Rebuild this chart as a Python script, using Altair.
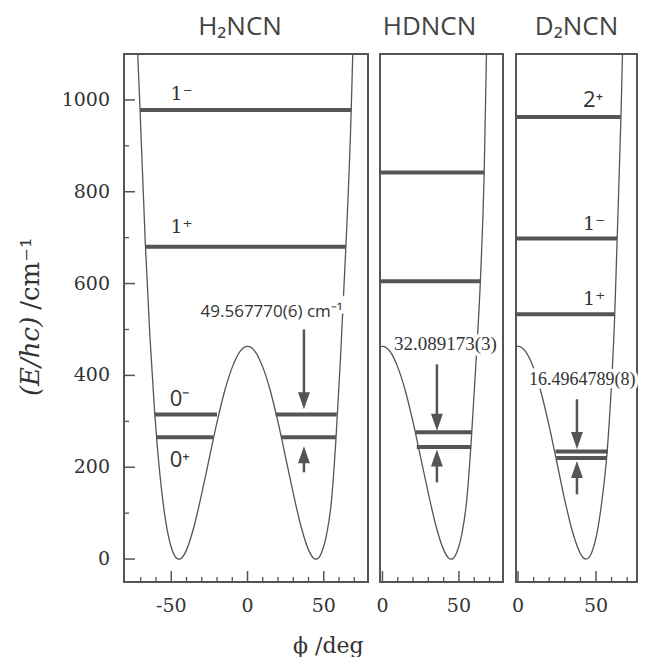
import altair as alt
import pandas as pd

GRAY = "#555555"
TXT = "#333333"

# ---------------- H2NCN ----------------
h2_phi = [-73, -72, -70.5, -67, -64, -61, -58, -55, -52, -49, -46, -44.5, -43, -40, -35, -30, -25, -20, -15, -10, -5, 0,
          5, 10, 15, 20, 25, 30, 35, 40, 43, 44.5, 46, 49, 52, 55, 58, 61, 64.5, 68, 69, 69.5]
h2_V = [1180, 1100, 980, 686, 484, 325, 202, 113, 52, 16, 1, 0, 3, 20, 72, 143, 221, 298, 366, 418, 452, 463,
        452, 418, 366, 298, 221, 143, 72, 20, 3, 0, 1, 18, 56, 125, 262, 440, 680, 978, 1100, 1160]
h2_lev_E = [265, 315, 265, 315, 680, 978]
h2_lev_x1 = [-60, -61, 22, 18.5, -67, -70.5]
h2_lev_x2 = [-22.5, -20, 58, 58.5, 64.5, 68]
h2_lab_serif = ["1⁻", "1⁺"]
h2_lab_serif_x = [-50.5, -50.5]
h2_lab_serif_y = [1000, 711]
h2_lab_sans = ["0⁻", "0⁺"]
h2_lab_sans_x = [-51, -51]
h2_lab_sans_y = [333, 200]
h2_ann = ["49.567770(6) cm⁻¹"]
h2_ann_x = [-30.8]
h2_ann_y = [528]
h2_arr_x = [37, 37]
h2_arr_from = [500, 189]
h2_arr_head = [345, 227]
h2_arr_dir = ["down", "up"]

# ---------------- HDNCN ----------------
hd_phi = [-2, 0, 5, 10, 15, 20, 25, 30, 35, 40, 43, 44.7, 46, 49, 52, 55, 58, 61, 64, 66.5, 68, 68.5]
hd_V = [462, 463, 452, 418, 366, 298, 221, 143, 72, 20, 3, 0, 1, 18, 56, 125, 255, 420, 605, 842, 1100, 1200]
hd_lev_E = [244, 276, 605, 842]
hd_lev_x1 = [22.4, 21.5, -1.6, -1.6]
hd_lev_x2 = [58, 58.5, 64, 66.5]
hd_ann = ["32.089173(3)"]
hd_ann_x = [7.5]
hd_ann_y = [456]
hd_arr_x = [35.6, 35.6]
hd_arr_from = [424, 167]
hd_arr_head = [298, 220]
hd_arr_dir = ["down", "up"]

# ---------------- D2NCN ----------------
d2_phi = [-1.5, 0, 5, 10, 15, 20, 25, 30, 35, 40, 42, 43.6, 45, 48, 51, 54, 57, 60, 62, 63.5, 66, 67, 67.5]
d2_V = [463, 463, 451, 416, 360, 289, 209, 128, 59, 12, 2, 0, 2, 21, 63, 132, 227, 385, 530, 690, 963, 1100, 1200]
d2_lev_E = [220, 234.5, 533, 698, 963]
d2_lev_x1 = [24.5, 24, -1.3, -1.3, -1.3]
d2_lev_x2 = [57, 57.5, 62, 63.5, 66]
d2_lab_serif = ["1⁻", "1⁺"]
d2_lab_serif_x = [41.7, 41.7]
d2_lab_serif_y = [717, 554]
d2_lab_sans = ["2⁺"]
d2_lab_sans_x = [41.7]
d2_lab_sans_y = [985]
d2_ann = ["16.4964789(8)"]
d2_ann_x = [7]
d2_ann_y = [380]
d2_arr_x = [37.8, 37.8]
d2_arr_from = [348, 141]
d2_arr_head = [258, 195]
d2_arr_dir = ["down", "up"]

# ---------------- ticks and tick labels ----------------
y_ticks_major = [0, 200, 400, 600, 800, 1000]
y_tick_labels = ["0", "200", "400", "600", "800", "1000"]
y_ticks_minor = [100, 300, 500, 700, 900]
h2_x_major = [-50, 0, 50]
h2_x_labels = ["-50", "0", "50"]
h2_x_minor = [-70, -60, -40, -30, -20, -10, 10, 20, 30, 40, 60, 70]
r_x_major = [0, 50]
r_x_labels = ["0", "50"]
r_x_minor = [10, 20, 30, 40, 60, 70]

y_title_parts = ["(E/hc)", "/cm⁻¹"]
y_title_pos = [355, 543]
x_title = "ϕ /deg"

Y_DOM = [-50, 1100]
H = 528
W1 = 244
WL = 108  # width of the strip that carries the y labels and y title
HEAD = {"down": "M-0.7,-1L0.7,-1L0,1Z", "up": "M-0.7,1L0.7,1L0,-1Z"}
SERIF = "DejaVu Serif"
TITLE_KW = dict(font="Open Sans", fontSize=26, fontWeight="normal", color="#444444", offset=13, anchor="middle")


def tick_segments(width, xdom, xmajor, xminor, left):
    xpx = width / (xdom[1] - xdom[0])
    ypx = H / (Y_DOM[1] - Y_DOM[0])
    x0 = xdom[0]
    y0 = Y_DOM[0]
    rows = [(v, v, y0, y0 + 11 / ypx, 1.5) for v in xmajor]
    rows += [(v, v, y0, y0 + 5 / ypx, 1.3) for v in xminor]
    if left:
        rows += [(x0, x0 + 11 / xpx, v, v, 1.5) for v in y_ticks_major]
        rows += [(x0, x0 + 5 / xpx, v, v, 1.3) for v in y_ticks_minor]
    return pd.DataFrame(rows, columns=["a", "b", "c", "d", "w"])


def panel(title, title_dx, width, xdom, phi, V, levE, levx1, levx2,
          lab_serif, lab_serif_x, lab_serif_y, lab_sans, lab_sans_x, lab_sans_y,
          ann, ann_x, ann_y, ann_font, ann_size,
          arr_x, arr_from, arr_head, arr_dir, xmajor, xlabels, xminor, left):
    xs = alt.Scale(domain=xdom, nice=False, zero=False)
    ys = alt.Scale(domain=Y_DOM, nice=False, zero=False)

    def X(f):
        return alt.X(f, scale=xs, axis=None)

    def Y(f):
        return alt.Y(f, scale=ys, axis=None)

    curve = alt.Chart(pd.DataFrame({"phi": phi, "V": V})).mark_line(
        color=GRAY, strokeWidth=1.3, clip=True, interpolate="monotone"
    ).encode(x=X("phi:Q"), y=Y("V:Q"))

    levels = alt.Chart(pd.DataFrame({"E": levE, "x1": levx1, "x2": levx2})).mark_rule(
        color=GRAY, strokeWidth=4, clip=True
    ).encode(x=X("x1:Q"), x2="x2:Q", y=Y("E:Q"))

    adf = pd.DataFrame({"x": arr_x, "y1": arr_from, "y2": arr_head,
                        "shape": [HEAD[d] for d in arr_dir]})
    shafts = alt.Chart(adf).mark_rule(color=GRAY, strokeWidth=2.5).encode(
        x=X("x:Q"), y=Y("y1:Q"), y2="y2:Q")
    heads = alt.Chart(adf).mark_point(filled=True, color=GRAY, opacity=1, size=289, strokeWidth=0).encode(
        x=X("x:Q"), y=Y("y2:Q"), shape=alt.Shape("shape:N", scale=None))

    layers = [curve, levels, shafts, heads]

    if lab_serif:
        layers.append(alt.Chart(pd.DataFrame({"t": lab_serif, "x": lab_serif_x, "y": lab_serif_y})).mark_text(
            font=SERIF, fontSize=19, color=TXT, align="left", baseline="alphabetic"
        ).encode(x=X("x:Q"), y=Y("y:Q"), text="t:N"))
    if lab_sans:
        layers.append(alt.Chart(pd.DataFrame({"t": lab_sans, "x": lab_sans_x, "y": lab_sans_y})).mark_text(
            font="Open Sans", fontSize=22, color=TXT, align="left", baseline="alphabetic"
        ).encode(x=X("x:Q"), y=Y("y:Q"), text="t:N"))

    # frame (outline rectangle over the whole domain) and inward ticks
    box = alt.Chart(pd.DataFrame({"x0": [xdom[0]], "x1": [xdom[1]], "y0": [Y_DOM[0]], "y1": [Y_DOM[1]]})).mark_rect(
        filled=False, stroke=GRAY, strokeWidth=2, fillOpacity=0
    ).encode(x=X("x0:Q"), x2="x1:Q", y=Y("y0:Q"), y2="y1:Q")
    seg = tick_segments(width, xdom, xmajor, xminor, left)
    ticks = alt.Chart(seg).mark_rule(color=GRAY).encode(
        x=X("a:Q"), x2="b:Q", y=Y("c:Q"), y2="d:Q", strokeWidth=alt.StrokeWidth("w:Q", scale=None))
    layers += [box, ticks]

    andf = pd.DataFrame({"t": ann, "x": ann_x, "y": ann_y})
    layers.append(alt.Chart(andf).mark_text(
        font=ann_font, fontSize=ann_size, color="white", stroke="white", strokeWidth=7,
        align="left", baseline="alphabetic").encode(x=X("x:Q"), y=Y("y:Q"), text="t:N"))
    layers.append(alt.Chart(andf).mark_text(
        font=ann_font, fontSize=ann_size, color=TXT, align="left", baseline="alphabetic"
    ).encode(x=X("x:Q"), y=Y("y:Q"), text="t:N"))

    layers.append(alt.Chart(pd.DataFrame({"v": xmajor, "t": xlabels})).mark_text(
        font=SERIF, fontSize=19, color=TXT, align="center", baseline="top"
    ).encode(x=X("v:Q"), y=alt.value(H + 15), text="t:N"))

    return alt.layer(*layers).properties(
        width=width, height=H, title=alt.TitleParams(text=title, dx=title_dx, **TITLE_KW))


# strip with y tick labels and the y-axis title
ys_strip = alt.Scale(domain=Y_DOM, nice=False, zero=False)
ylab = alt.Chart(pd.DataFrame({"v": y_ticks_major, "t": y_tick_labels})).mark_text(
    font=SERIF, fontSize=19, color=TXT, align="right", baseline="middle"
).encode(y=alt.Y("v:Q", scale=ys_strip, axis=None), x=alt.value(WL - 6), text="t:N")
yt1 = alt.Chart(pd.DataFrame({"t": y_title_parts[:1], "y": y_title_pos[:1]})).mark_text(
    font=SERIF, fontStyle="italic", fontSize=26, color=TXT, angle=270, align="left", baseline="middle"
).encode(x=alt.value(23), y=alt.Y("y:Q", scale=ys_strip, axis=None), text="t:N")
yt2 = alt.Chart(pd.DataFrame({"t": y_title_parts[1:], "y": y_title_pos[1:]})).mark_text(
    font=SERIF, fontSize=26, color=TXT, angle=270, align="left", baseline="middle"
).encode(x=alt.value(23), y=alt.Y("y:Q", scale=ys_strip, axis=None), text="t:N")
strip = alt.layer(ylab, yt1, yt2).properties(
    width=WL, height=H, title=alt.TitleParams(text="\u00a0", **TITLE_KW))

p1 = panel("H₂NCN", -6, W1, [-81, 79], h2_phi, h2_V, h2_lev_E, h2_lev_x1, h2_lev_x2,
           h2_lab_serif, h2_lab_serif_x, h2_lab_serif_y, h2_lab_sans, h2_lab_sans_x, h2_lab_sans_y,
           h2_ann, h2_ann_x, h2_ann_y, "Open Sans", 17,
           h2_arr_x, h2_arr_from, h2_arr_head, h2_arr_dir, h2_x_major, h2_x_labels, h2_x_minor, True)

p2 = panel("HDNCN", -12, 123, [-1.6, 78.8], hd_phi, hd_V, hd_lev_E, hd_lev_x1, hd_lev_x2,
           [], [], [], [], [], [],
           hd_ann, hd_ann_x, hd_ann_y, "Liberation Serif", 19,
           hd_arr_x, hd_arr_from, hd_arr_head, hd_arr_dir, r_x_major, r_x_labels, r_x_minor, False)

p3 = panel("D₂NCN", 0, 121, [-1.3, 76.3], d2_phi, d2_V, d2_lev_E, d2_lev_x1, d2_lev_x2,
           d2_lab_serif, d2_lab_serif_x, d2_lab_serif_y, d2_lab_sans, d2_lab_sans_x, d2_lab_sans_y,
           d2_ann, d2_ann_x, d2_ann_y, "Liberation Serif", 18,
           d2_arr_x, d2_arr_from, d2_arr_head, d2_arr_dir, r_x_major, r_x_labels, r_x_minor, False)

chart = alt.hconcat(strip, p1, p2, p3, spacing=7).properties(
    padding={"left": 0, "top": 6, "right": 0, "bottom": 0}, background="white",
    title=alt.TitleParams(text=x_title, orient="bottom", anchor="start", dx=285, offset=20,
                          font=SERIF, fontSize=22, fontWeight="normal", color=TXT)
).configure_view(stroke="transparent", strokeWidth=0)

chart.save("out.html", embed_options={"renderer": "svg", "actions": False})
